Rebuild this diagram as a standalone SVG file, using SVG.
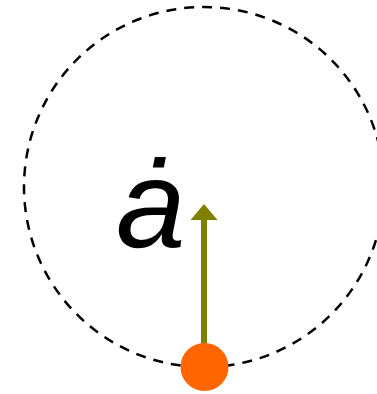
<svg xmlns="http://www.w3.org/2000/svg" width="377" height="394" viewBox="0 0 377 394">
<style>
.orbit{fill:none;stroke:#000;stroke-width:2.5;stroke-dasharray:10,8}
.lbl{font-family:"Liberation Sans",Arial,sans-serif;font-style:italic;font-size:125px;fill:#000}
</style>
<defs>
<marker id="ah" markerWidth="27" markerHeight="16" refX="13.5" refY="0" orient="auto-start-reverse" markerUnits="userSpaceOnUse" viewBox="0 0 27 16">
<path d="M0,16 L13.5,0 L27,16 Z" fill="#808000"/>
</marker>
</defs>
<rect width="377" height="394" fill="#fff"/>
<g id="orbit"><circle class="orbit" cx="204" cy="187" r="180"/></g>
<g id="label"><text class="lbl" x="116" y="247">ȧ</text></g>
<g id="connectors"><line x1="204" y1="360" x2="204" y2="220" stroke="#808000" stroke-width="6"/><path d="M190.5,220 L204,204 L217.5,220 Z" fill="#808000"/></g>
<g id="dot"><circle cx="204.5" cy="367" r="24" fill="#ff6600"/></g>
</svg>
